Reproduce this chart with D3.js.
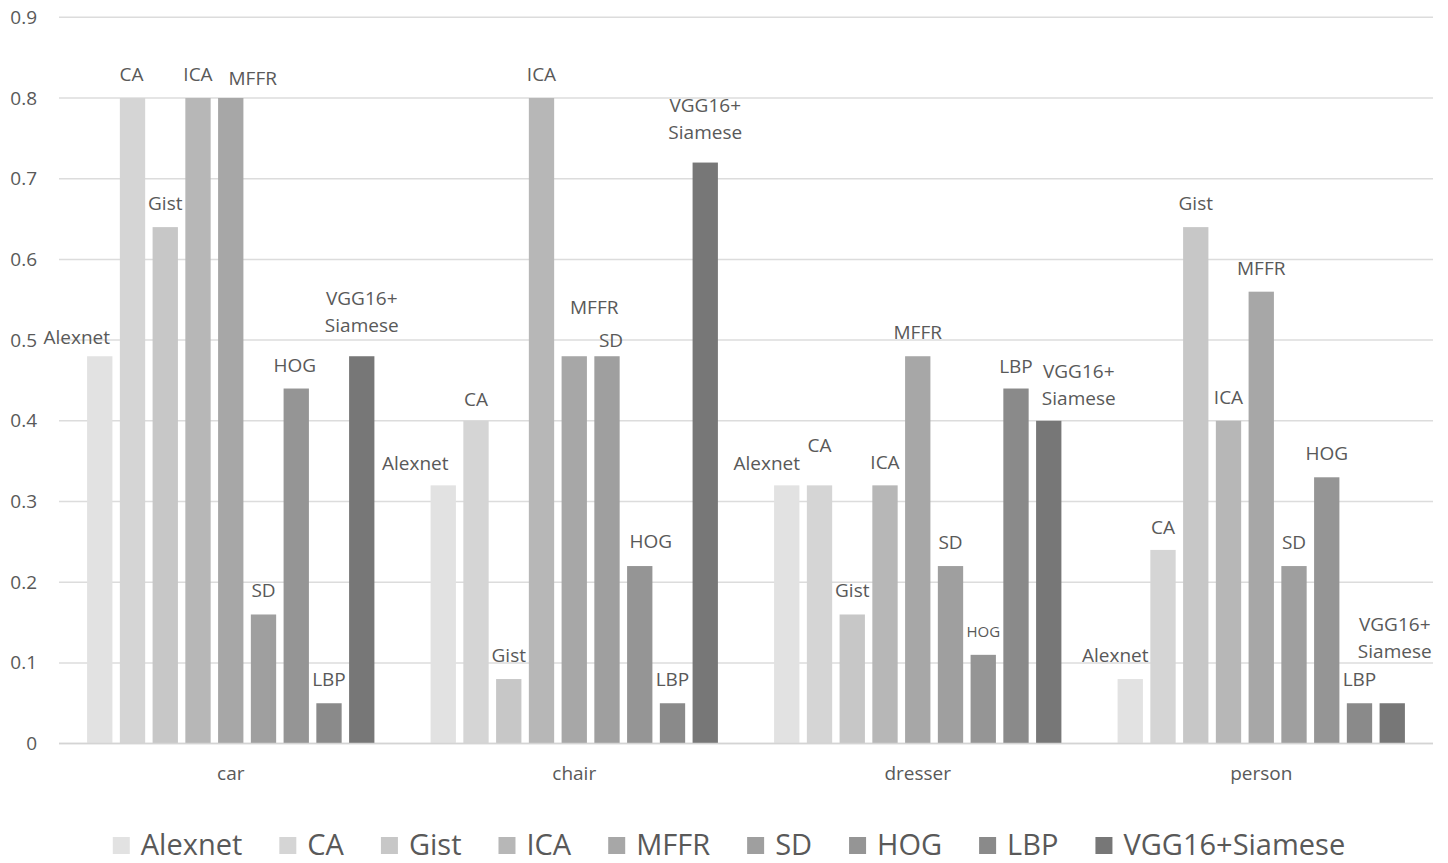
<!DOCTYPE html>
<html>
<head>
<meta charset="utf-8">
<script src="https://cdn.jsdelivr.net/npm/d3@7/dist/d3.min.js"></script>
<style>
  html, body { margin: 0; padding: 0; background: #ffffff; }
  svg { display: block; }
  text { font-family: "Open Sans", "Noto Sans", sans-serif; fill: #595959; }
</style>
</head>
<body>
<svg id="chart" width="1448" height="863"></svg>
<script>
// Categories and series
const categories = ["car", "chair", "dresser", "person"];
const seriesNames = ["Alexnet", "CA", "Gist", "ICA", "MFFR", "SD", "HOG", "LBP", "VGG16+Siamese"];

// One value per category, for each method
const alexnet    = [0.48, 0.32, 0.32, 0.08];
const ca         = [0.80, 0.40, 0.32, 0.24];
const gist       = [0.64, 0.08, 0.16, 0.64];
const ica        = [0.80, 0.80, 0.32, 0.40];
const mffr       = [0.80, 0.48, 0.48, 0.56];
const sd         = [0.16, 0.48, 0.22, 0.22];
const hog        = [0.44, 0.22, 0.11, 0.33];
const lbp        = [0.05, 0.05, 0.44, 0.05];
const vggSiamese = [0.48, 0.72, 0.40, 0.05];

// Axis ticks
const yTicks = [0, 0.1, 0.2, 0.3, 0.4, 0.5, 0.6, 0.7, 0.8, 0.9];
const yTickLabels = ["0", "0.1", "0.2", "0.3", "0.4", "0.5", "0.6", "0.7", "0.8", "0.9"];

const seriesValues = [alexnet, ca, gist, ica, mffr, sd, hog, lbp, vggSiamese];
const colors = ["#e2e2e2", "#d5d5d5", "#c7c7c7", "#b7b7b7", "#a7a7a7", "#9f9f9f", "#959595", "#8a8a8a", "#777777"];

const rows = [];
categories.forEach((c, ci) => {
  seriesNames.forEach((s, si) => {
    rows.push({ category: c, series: s, value: seriesValues[si][ci] });
  });
});

const svg = d3.select("#chart");
const plot = { left: 59, right: 1433, top: 17.3, bottom: 743.6 };

const x0 = d3.scaleBand().domain(categories).range([plot.left, plot.right]).paddingInner(0).paddingOuter(0);
const x1 = d3.scaleBand().domain(seriesNames).range([0, x0.bandwidth()]).paddingInner(0.227).paddingOuter(0.858);
const y = d3.scaleLinear().domain([0, 0.9]).range([plot.bottom, plot.top]);
const color = d3.scaleOrdinal().domain(seriesNames).range(colors);

// Gridlines
svg.append("g")
  .selectAll("line")
  .data(yTicks)
  .join("line")
  .attr("x1", plot.left).attr("x2", plot.right)
  .attr("y1", d => y(d)).attr("y2", d => y(d))
  .attr("stroke", "#dcdcdc")
  .attr("stroke-width", 1.5);

// Y axis labels
const yAxis = d3.axisLeft(y).tickValues(yTicks).tickFormat((d, i) => yTickLabels[i]).tickSize(0).tickPadding(0);
const yg = svg.append("g").attr("transform", "translate(37,0)").call(yAxis);
yg.select(".domain").remove();
yg.selectAll("text").style("font-size", "19px").attr("fill", "#595959")
  .style("font-family", '"Open Sans", "Noto Sans", sans-serif');

// Bars
svg.append("g")
  .selectAll("rect")
  .data(rows)
  .join("rect")
  .attr("x", d => x0(d.category) + x1(d.series))
  .attr("y", d => y(d.value))
  .attr("width", x1.bandwidth())
  .attr("height", d => y(0) - y(d.value))
  .attr("fill", d => color(d.series));

// Zero line on top of bars
svg.append("line")
  .attr("x1", plot.left).attr("x2", plot.right)
  .attr("y1", y(0)).attr("y2", y(0))
  .attr("stroke", "#d4d4d4").attr("stroke-width", 1.5);

// Category axis
const xAxis = d3.axisBottom(x0).tickSize(0).tickPadding(0);
const xg = svg.append("g").attr("transform", `translate(0,${y(0) + 23})`).call(xAxis);
xg.select(".domain").remove();
xg.selectAll("text").style("font-size", "19px").attr("fill", "#595959")
  .style("font-family", '"Open Sans", "Noto Sans", sans-serif');

// Series-name labels above bars, with hand-placed nudges to avoid overlaps
const labelNudge = {
  "car|Alexnet": [-23, 5], "car|CA": [-1, 0], "car|MFFR": [22, 4], "car|HOG": [-1.5, 0],
  "car|VGG16+Siamese": [0, -7],
  "chair|Alexnet": [-28, 2], "chair|CA": [0, 2], "chair|MFFR": [20, -25], "chair|SD": [4, 8],
  "chair|HOG": [11, -1], "chair|VGG16+Siamese": [0, -7],
  "dresser|Alexnet": [-20, 2], "dresser|CA": [0, -16], "dresser|ICA": [0, 1], "dresser|HOG": [0, 1],
  "dresser|LBP": [0, 1], "dresser|VGG16+Siamese": [30, 1],
  "person|Alexnet": [-15, 0], "person|CA": [0, 1], "person|VGG16+Siamese": [2.5, -28]
};
const smallLabels = new Set(["dresser|HOG"]);

const labels = svg.append("g").attr("text-anchor", "middle");
rows.forEach(d => {
  const key = d.category + "|" + d.series;
  const [dx, dy] = labelNudge[key] || [0, 0];
  const cx = x0(d.category) + x1(d.series) + x1.bandwidth() / 2 + dx;
  const baseline = y(d.value) - 17 + dy;
  const t = labels.append("text")
    .attr("x", cx)
    .style("font-size", smallLabels.has(key) ? "15px" : "19px");
  if (d.series === "VGG16+Siamese") {
    t.attr("y", baseline - 27);
    t.append("tspan").attr("x", cx).attr("dy", 0).text("VGG16+");
    t.append("tspan").attr("x", cx).attr("dy", 27).text("Siamese");
  } else {
    t.attr("y", smallLabels.has(key) ? baseline - 1.5 : baseline).text(d.series);
  }
});

// Legend
const legend = svg.append("g");
const items = seriesNames.map(s => {
  const g = legend.append("g");
  g.append("rect").attr("width", 17).attr("height", 17).attr("y", -18).attr("fill", color(s));
  const t = g.append("text").attr("x", 28).attr("y", 0).style("font-size", "29px").text(s);
  return { g, w: 28 + t.node().getComputedTextLength() };
});
const gap = 37;
const total = d3.sum(items, d => d.w) + gap * (items.length - 1);
let lx = 729 - total / 2;
items.forEach(it => {
  it.g.attr("transform", `translate(${lx},855)`);
  lx += it.w + gap;
});
</script>
</body>
</html>
